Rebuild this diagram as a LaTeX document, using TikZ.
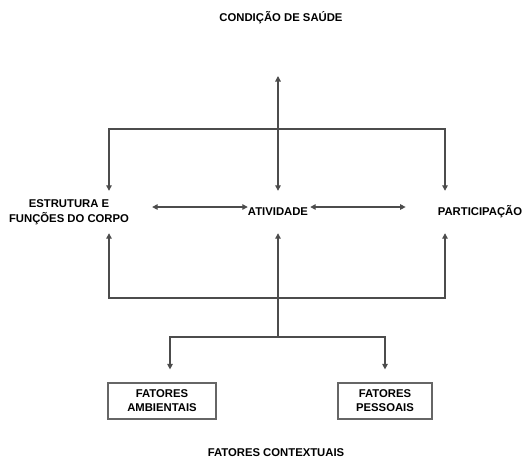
\documentclass[tikz,border=0pt]{standalone}
\usepackage{fontspec}
\setmainfont{Liberation Sans}
\usetikzlibrary{arrows.meta}

\begin{document}
\begin{tikzpicture}[x=1pt, y=-1pt,
  lbl/.style={font=\bfseries\fontsize{11.3}{15.5}\selectfont, inner sep=0pt, align=center},
  mid/.style={lbl, minimum height=42pt},
  box/.style={lbl, draw=black!60, line width=1.2pt, minimum width=108pt, minimum height=36pt, font=\bfseries\fontsize{11.3}{14}\selectfont},
  ln/.style={draw=black!70, line width=1.2pt},
  arr/.style={ln, -{Triangle[length=5.5pt,width=5.5pt]}},
  dbl/.style={ln, {Triangle[length=5.5pt,width=5.5pt]}-{Triangle[length=5.5pt,width=5.5pt]}}]

\useasboundingbox (0,0) rectangle (526,459);

% Top
\node[lbl] (saude) at (281,18) {CONDIÇÃO DE SAÚDE};

% Middle row
\node[mid] (estrutura) at (69,212) {ESTRUTURA E\\FUNÇÕES DO CORPO};
\node[mid] (atividade) at (278,212) {ATIVIDADE};
\node[mid] (participacao) at (480,212) {PARTICIPAÇÃO};

% Bottom boxes
\node[box] (ambientais) at (162,401) {FATORES\\AMBIENTAIS};
\node[box, minimum width=94pt] (pessoais) at (385,401) {FATORES\\PESSOAIS};
\node[lbl] (contextuais) at (276,453) {FATORES CONTEXTUAIS};

% Helper points
\coordinate (top) at (278,76);
\coordinate (hub) at (278,129);
\coordinate (hubB) at (278,298);
\coordinate (fork) at (278,337);
\coordinate (colL) at (109,0);
\coordinate (colR) at (445,0);

% Arrows (upper part)
\draw[dbl] (top) -- (atividade.north);
\draw[arr] (hub) -| (colL |- estrutura.north);
\draw[arr] (hub) -| (colR |- participacao.north);

% Arrows (middle row)
\draw[dbl, shorten <=23pt] ([yshift=5pt]estrutura.east) -- ([yshift=5pt]atividade.west);
\draw[dbl, shorten <=2pt, shorten >=32pt] ([yshift=5pt]atividade.east) -- ([yshift=5pt]participacao.west);

% Arrows (lower part)
\draw[arr] (hubB) -- (atividade.south);
\draw[arr] (hubB) -| (colL |- estrutura.south);
\draw[arr] (hubB) -| (colR |- participacao.south);
\draw[ln] (hubB) -- (fork);
\draw[arr, shorten >=13pt] (fork) -| ([xshift=8pt]ambientais.north);
\draw[arr, shorten >=13pt] (fork) -| (pessoais.north);

\end{tikzpicture}
\end{document}
